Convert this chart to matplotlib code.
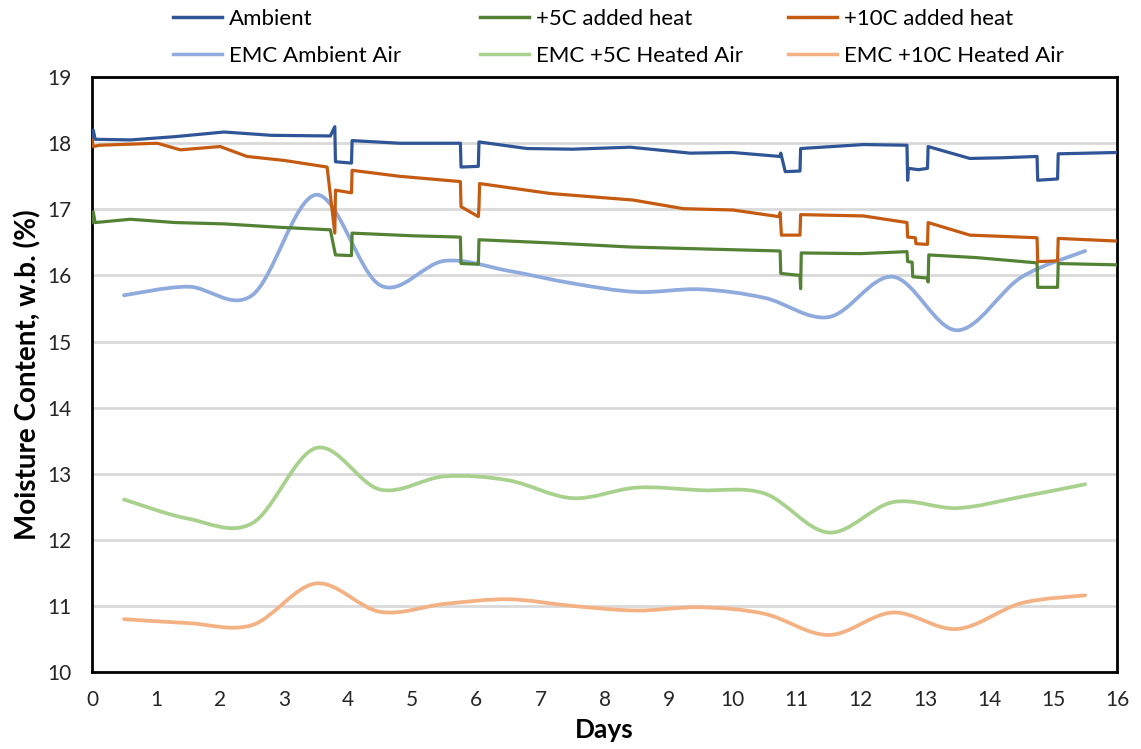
import numpy as np
import matplotlib
matplotlib.use("Agg")
import matplotlib.pyplot as plt
from matplotlib.path import Path
from matplotlib.patches import PathPatch
from matplotlib.lines import Line2D

plt.rcParams['font.family'] = ['Lato', 'DejaVu Sans']

amb_days = [0.0, 0.02, 0.05, 0.6, 1.3, 2.06, 2.8, 3.72, 3.79, 3.80, 4.05, 4.06, 4.8,
            5.75, 5.76, 6.03, 6.04, 6.79, 7.5, 8.4, 9.34, 10.0, 10.74, 10.75, 10.82,
            11.05, 11.06, 12.04, 12.72, 12.73, 12.74, 12.9, 13.04, 13.05, 13.7, 14.2,
            14.75, 14.76, 15.07, 15.08, 16.0]
amb_mc = [18.06, 18.2, 18.06, 18.05, 18.1, 18.17, 18.12, 18.11, 18.25, 17.72, 17.70, 18.04, 18.0,
          18.0, 17.64, 17.65, 18.02, 17.92, 17.91, 17.94, 17.85, 17.86, 17.80, 17.85, 17.57,
          17.58, 17.92, 17.98, 17.97, 17.44, 17.62, 17.60, 17.62, 17.95, 17.77, 17.78,
          17.80, 17.44, 17.46, 17.84, 17.86]

h5_days = [0.0, 0.02, 0.05, 0.6, 1.3, 2.06, 2.9, 3.72, 3.80, 4.05, 4.06, 5.0,
           5.75, 5.76, 6.03, 6.04, 7.2, 8.4, 10.74, 10.75, 11.05, 11.06, 11.07,
           12.0, 12.72, 12.73, 12.8, 12.81, 13.04, 13.05, 13.06, 13.8,
           14.75, 14.76, 15.07, 15.08, 16.0]
h5_mc = [16.80, 16.96, 16.80, 16.85, 16.80, 16.78, 16.73, 16.69, 16.31, 16.30, 16.64, 16.60,
         16.58, 16.18, 16.17, 16.54, 16.49, 16.43, 16.37, 16.03, 16.00, 15.80, 16.34,
         16.33, 16.36, 16.21, 16.20, 15.98, 15.96, 15.90, 16.31, 16.27,
         16.19, 15.82, 15.82, 16.18, 16.16]

h10_days = [0.0, 0.02, 0.12, 1.02, 1.38, 2.0, 2.42, 3.0, 3.67, 3.79, 3.80, 4.05, 4.06,
            4.8, 5.75, 5.76, 6.03, 6.04, 6.05, 7.15, 8.45, 9.23, 10.0, 10.72, 10.74,
            10.76, 11.05, 11.06, 12.04, 12.72, 12.73, 12.85, 12.86, 13.04, 13.05, 13.7,
            14.75, 14.76, 15.07, 15.08, 16.0]
h10_mc = [18.05, 17.95, 17.97, 18.0, 17.90, 17.95, 17.80, 17.74, 17.64, 16.64, 17.29, 17.25, 17.59,
          17.50, 17.42, 17.04, 16.89, 17.04, 17.39, 17.24, 17.14, 17.01, 16.99, 16.89, 16.95,
          16.61, 16.61, 16.92, 16.90, 16.80, 16.58, 16.57, 16.48, 16.47, 16.80, 16.61,
          16.57, 16.21, 16.22, 16.56, 16.52]

# equilibrium moisture content (daily points, smoothed line)
emc_days = [0.5, 1.5, 2.5, 3.5, 4.5, 5.5, 6.5, 7.5, 8.5, 9.5, 10.5, 11.5, 12.5, 13.5, 14.5, 15.5]
emc_amb = [15.70, 15.83, 15.70, 17.22, 15.85, 16.22, 16.07, 15.88, 15.75, 15.79, 15.66, 15.37,
           15.98, 15.17, 15.97, 16.37]
emc_h5 = [12.61, 12.32, 12.25, 13.39, 12.76, 12.96, 12.90, 12.63, 12.79, 12.75, 12.70, 12.11,
          12.57, 12.48, 12.65, 12.84]
emc_h10 = [10.80, 10.74, 10.71, 11.34, 10.91, 11.03, 11.10, 11.00, 10.93, 10.98, 10.88, 10.56,
           10.90, 10.65, 11.04, 11.16]

C_AMB, C_H5, C_H10 = "#2F5597", "#548235", "#C55A11"
C_EAMB, C_EH5, C_EH10 = "#8FAADC", "#A9D18E", "#F4B183"


def smooth_path(xs, ys):
    # Excel-style smoothed line: cubic Bezier through each point
    p = np.column_stack([xs, ys]).astype(float)
    n = len(p)
    verts = [p[0]]
    codes = [Path.MOVETO]
    for i in range(n - 1):
        p0 = p[i - 1] if i > 0 else p[i]
        p3 = p[i + 2] if i + 2 < n else p[i + 1]
        c1 = p[i] + (p[i + 1] - p0) / 6.0
        c2 = p[i + 1] - (p3 - p[i]) / 6.0
        verts += [c1, c2, p[i + 1]]
        codes += [Path.CURVE4] * 3
    return Path(verts, codes)


fig = plt.figure(figsize=(11.41, 7.49), dpi=100)
ax = fig.add_axes([0.0806, 0.1028, 0.8985, 0.7942])

ax.set_axisbelow(True)
ax.grid(axis="y", color="#D9D9D9", linewidth=2)

ax.plot(amb_days, amb_mc, color=C_AMB, linewidth=2.3, zorder=3)
ax.plot(h5_days, h5_mc, color=C_H5, linewidth=2.3, zorder=3)
ax.plot(h10_days, h10_mc, color=C_H10, linewidth=2.3, zorder=3)

for ys, col in [(emc_amb, C_EAMB), (emc_h5, C_EH5), (emc_h10, C_EH10)]:
    ax.add_patch(PathPatch(smooth_path(emc_days, ys), facecolor="none", edgecolor=col,
                           linewidth=2.7, capstyle="round", zorder=2))

ax.set_xlim(0, 16)
ax.set_ylim(10, 19)
ax.set_xticks(range(0, 17))
ax.set_yticks(range(10, 20))
ax.tick_params(length=0, labelsize=15, colors="#262626")
ax.tick_params(axis="x", pad=13)
ax.tick_params(axis="y", pad=15)
for sp in ax.spines.values():
    sp.set_color("black")
    sp.set_linewidth(2)

ax.set_xlabel("Days", fontsize=19, fontweight="bold", labelpad=6)
ax.set_ylabel("Moisture Content, w.b. (%)", fontsize=20, fontweight="bold", labelpad=4)

colors = [C_AMB, C_H5, C_H10, C_EAMB, C_EH5, C_EH10]
labels = ["Ambient", "+5C added heat", "+10C added heat",
          "EMC Ambient Air", "EMC +5C Heated Air", "EMC +10C Heated Air"]
# one legend per column, Excel-style equal column pitch
col_left = [173 / 1141, 480 / 1141, 788 / 1141]
for c in range(3):
    hs = [Line2D([], [], color=colors[c + 3 * r], linewidth=2.5) for r in range(2)]
    ls = [labels[c + 3 * r] for r in range(2)]
    fig.legend(hs, ls, loc="upper left", bbox_to_anchor=(col_left[c], 1.0 - 9 / 749),
               frameon=False, fontsize=16, borderpad=0, borderaxespad=0,
               handlelength=2.2, handletextpad=0.3, labelspacing=0.75)

fig.savefig("out.png", dpi=100)
